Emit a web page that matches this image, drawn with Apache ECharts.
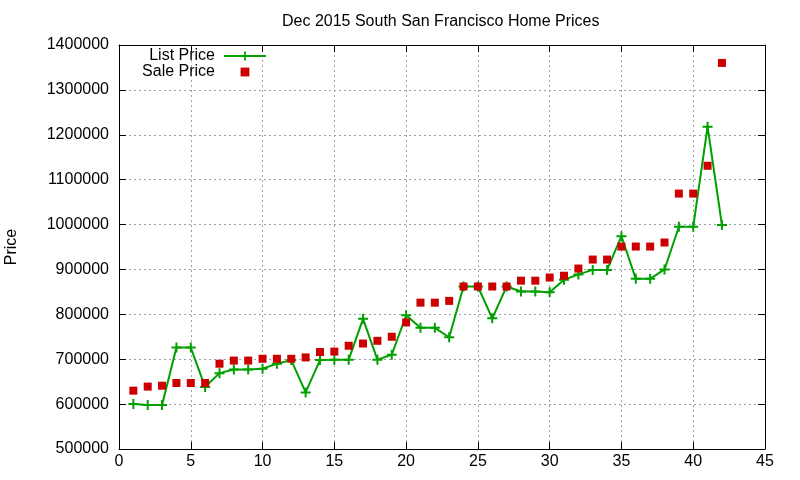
<!DOCTYPE html>
<html>
<head>
<meta charset="utf-8">
<script src="https://cdn.jsdelivr.net/npm/echarts@6/dist/echarts.min.js"></script>
<style>
  html, body { margin: 0; padding: 0; background: #fff; }
  #chart { width: 800px; height: 480px; }
</style>
</head>
<body>
<div id="chart"></div>
<script>
// house index 1..42, list and sale prices
const houseNo = [1, 2, 3, 4, 5, 6, 7, 8, 9, 10, 11, 12, 13, 14, 15, 16, 17, 18, 19, 20, 21,
  22, 23, 24, 25, 26, 27, 28, 29, 30, 31, 32, 33, 34, 35, 36, 37, 38, 39, 40, 41, 42];
const listPrice = [600000, 598000, 598000, 726000, 726000, 638000, 669000, 677000, 677000,
  679000, 690000, 698000, 626000, 698000, 699000, 699000, 790000, 699000, 710000, 798000,
  770000, 770000, 749000, 862000, 862000, 791000, 862000, 851000, 851000, 849000, 877000,
  889000, 899000, 899000, 974000, 879000, 879000, 900000, 995000, 995000, 1218000, 999000];
const salePrice = [630000, 639000, 641000, 647000, 647000, 647000, 690000, 697000, 697000,
  701000, 701000, 701000, 704000, 716000, 717000, 730000, 735000, 741000, 750000, 782000,
  826000, 826000, 830000, 862000, 862000, 862000, 862000, 875000, 875000, 882000, 886000,
  902000, 922000, 922000, 951000, 951000, 951000, 960000, 1069000, 1069000, 1131000, 1360000];

const xMin = 0, xMax = 45, xStep = 5;
const yMin = 500000, yMax = 1400000, yStep = 100000;

const font = "Liberation Sans, Arial, sans-serif";
const green = "#00a000";
const red = "#cc0000";
const plus = "path://M4,0L6,0L6,4L10,4L10,6L6,6L6,10L4,10L4,6L0,6L0,4L4,4Z";
const square = "path://M0,0L0,0M10,10L10,10M1,1L9,1L9,9L1,9Z";

const chart = echarts.init(document.getElementById("chart"));

const tick = { show: true, inside: true, length: 7, lineStyle: { color: "#000", width: 1 } };
const line = { show: true, onZero: false, lineStyle: { color: "#000", width: 1 } };
const split = { show: true, lineStyle: { color: "#a0a0a0", width: 1, type: [2, 3] } };

chart.setOption({
  animation: false,
  backgroundColor: "#fff",
  title: {
    text: "Dec 2015 South San Francisco Home Prices",
    left: 282,
    top: 14,
    padding: 0,
    textStyle: { fontFamily: font, fontSize: 16, fontWeight: "normal", color: "#000" }
  },
  legend: {
    orient: "vertical",
    align: "right",
    right: 533,
    top: 48,
    padding: 0,
    itemGap: 0,
    itemWidth: 42,
    itemHeight: 11,
    textStyle: { fontFamily: font, fontSize: 16, color: "#000", padding: [0, 4, 0, 0] },
    data: [
      { name: "List Price" },
      { name: "Sale Price", icon: square }
    ]
  },
  grid: { left: 119, right: 35, top: 45, bottom: 31, containLabel: false, outerBoundsMode: "none" },
  xAxis: [
    {
      type: "value", min: xMin, max: xMax, interval: xStep,
      axisLine: line, axisTick: tick, splitLine: split,
      axisLabel: { margin: 5, fontFamily: font, fontSize: 16, color: "#000" }
    },
    {
      type: "value", position: "top", min: xMin, max: xMax, interval: xStep,
      axisLine: line, axisTick: tick, splitLine: { show: false }, axisLabel: { show: false }
    }
  ],
  yAxis: [
    {
      type: "value", min: yMin, max: yMax, interval: yStep,
      name: "Price", nameLocation: "middle", nameGap: 99,
      nameTextStyle: { fontFamily: font, fontSize: 16, color: "#000" },
      axisLine: line, axisTick: tick, splitLine: split,
      axisLabel: {
        margin: 10, fontFamily: font, fontSize: 16, color: "#000",
        formatter: (v) => String(v)
      }
    },
    {
      type: "value", position: "right", min: yMin, max: yMax, interval: yStep,
      axisLine: line, axisTick: tick, splitLine: { show: false }, axisLabel: { show: false }
    }
  ],
  series: [
    {
      name: "List Price",
      type: "line",
      data: houseNo.map((n, i) => [n, listPrice[i]]),
      symbol: plus,
      symbolSize: 10,
      showAllSymbol: true,
      lineStyle: { color: green, width: 2 },
      itemStyle: { color: green, opacity: 1 },
      z: 3
    },
    {
      name: "Sale Price",
      type: "scatter",
      data: houseNo.map((n, i) => [n, salePrice[i]]),
      symbol: "rect",
      symbolSize: 8,
      itemStyle: { color: red, opacity: 1 },
      z: 4
    }
  ]
});
</script>
</body>
</html>
